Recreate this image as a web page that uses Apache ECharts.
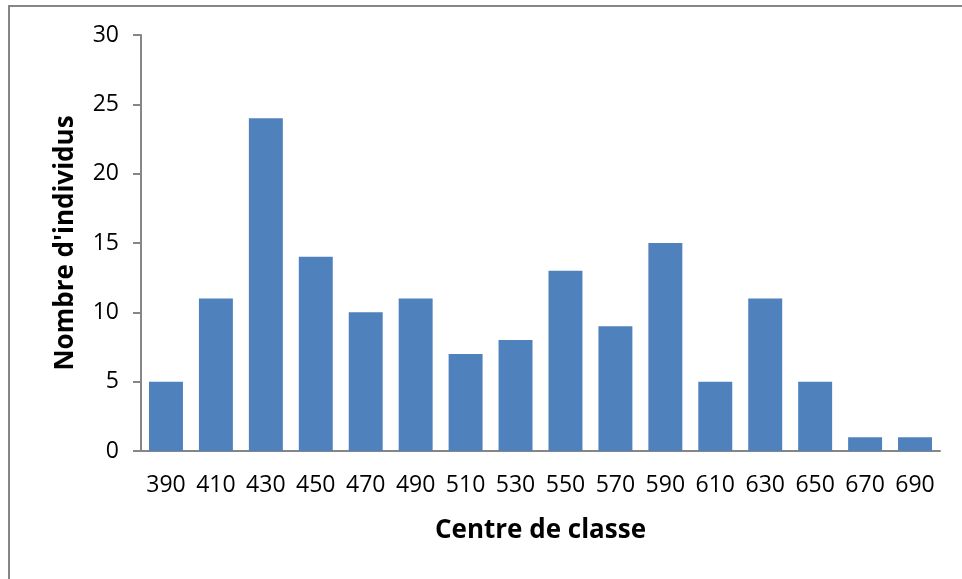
<!DOCTYPE html>
<html>
<head>
<meta charset="utf-8">
<script src="https://cdn.jsdelivr.net/npm/echarts@6/dist/echarts.min.js"></script>
<style>
  html, body { margin: 0; padding: 0; background: #fff; }
  #chart { width: 962px; height: 579px; }
</style>
</head>
<body>
<div id="chart"></div>
<script>
// Class centres (x categories) and number of individuals per class
const classCentres = ['390', '410', '430', '450', '470', '490', '510', '530', '550', '570', '590', '610', '630', '650', '670', '690'];
const counts = [5, 11, 24, 14, 10, 11, 7, 8, 13, 9, 15, 5, 11, 5, 1, 1];
const yTicks = { min: 0, max: 30, interval: 5 };

const fontFamily = '"Open Sans", "Liberation Sans", sans-serif';
const axisGrey = '#868686';

const chart = echarts.init(document.getElementById('chart'), null, { renderer: 'canvas' });

chart.setOption({
  animation: false,
  backgroundColor: '#ffffff',
  graphic: [{
    type: 'rect',
    shape: { x: 9, y: 6, width: 1000, height: 700 },
    style: { fill: 'none', stroke: axisGrey, lineWidth: 2 },
    silent: true
  }],
  grid: { left: 141, right: 22, top: 35, bottom: 128 },
  xAxis: {
    type: 'category',
    data: classCentres,
    name: 'Centre de classe',
    nameLocation: 'middle',
    nameGap: 67,
    nameTextStyle: { fontFamily, fontSize: 26, fontWeight: 'bold', color: '#000' },
    axisLine: { lineStyle: { color: axisGrey, width: 2 } },
    axisTick: { show: false },
    axisLabel: { fontFamily, fontSize: 23, color: '#000', margin: 23, interval: 0 }
  },
  yAxis: {
    type: 'value',
    min: yTicks.min,
    max: yTicks.max,
    interval: yTicks.interval,
    name: "Nombre d'individus",
    nameLocation: 'middle',
    nameGap: 62,
    nameTextStyle: { fontFamily, fontSize: 26, fontWeight: 'bold', color: '#000' },
    axisLine: { show: true, lineStyle: { color: axisGrey, width: 2 } },
    axisTick: { show: true, length: 8, lineStyle: { color: axisGrey, width: 2 } },
    splitLine: { show: false },
    axisLabel: { fontFamily, fontSize: 23, color: '#000', margin: 22 }
  },
  series: [{
    type: 'bar',
    data: counts,
    barCategoryGap: '32%',
    itemStyle: { color: '#4F81BD' }
  }]
});
</script>
</body>
</html>
